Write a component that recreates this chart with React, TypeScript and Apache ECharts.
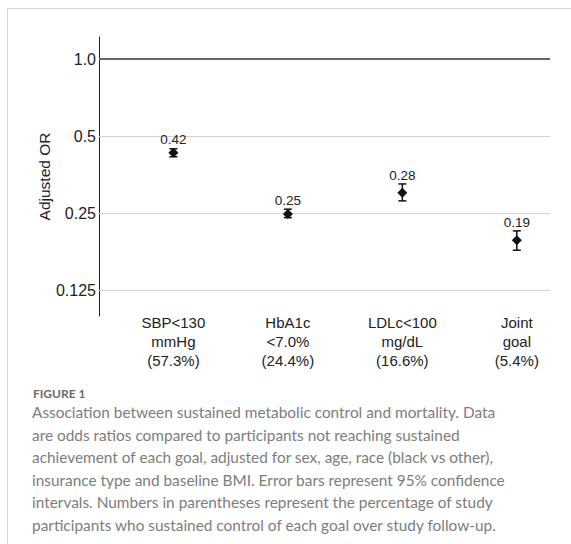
import React, { useEffect, useRef } from "react";
import * as echarts from "echarts";

// ---- data ----
const goalNames = ["SBP<130", "HbA1c", "LDLc<100", "Joint"];
const goalSecondLine = ["mmHg", "<7.0%", "mg/dL", "goal"];
const sustainedPct = ["57.3%", "24.4%", "16.6%", "5.4%"];
const goalPositions = [1, 2, 3, 4];
const orValues = [0.43, 0.248, 0.3, 0.196];
const ciLower = [0.415, 0.24, 0.279, 0.179];
const ciUpper = [0.446, 0.259, 0.325, 0.213];
const orLabels = ["0.42", "0.25", "0.28", "0.19"];
const yTicks = [0.125, 0.25, 0.5, 1.0];
const yTickLabels = ["0.125", "0.25", "0.5", "1.0"];
const yRange = [0.099, 1.22];

const captionTitle = "FIGURE 1";
const captionLines = [
  "Association between sustained metabolic control and mortality. Data",
  "are odds ratios compared to participants not reaching sustained",
  "achievement of each goal, adjusted for sex, age, race (black vs other),",
  "insurance type and baseline BMI. Error bars represent 95% confidence",
  "intervals. Numbers in parentheses represent the percentage of study",
  "participants who sustained control of each goal over study follow-up.",
];

const AX_FONT = "Arial, 'Liberation Sans', sans-serif";
const CAP_FONT = "Lato, 'Open Sans', sans-serif";

export default function App() {
  const ref = useRef<HTMLDivElement>(null);
  useEffect(() => {
    if (!ref.current) return;
    const chart = echarts.init(ref.current, undefined, { renderer: "svg" });
    const rows = goalPositions.map((x, i) => [
      x,
      Math.log2(orValues[i]),
      Math.log2(ciLower[i]),
      Math.log2(ciUpper[i]),
    ]);
    const graphics: any[] = [
      {
        type: "line",
        shape: { x1: 7.5, y1: 8.5, x2: 571, y2: 8.5 },
        style: { stroke: "#d4d4d4", lineWidth: 1 },
      },
      {
        type: "line",
        shape: { x1: 7.5, y1: 8.5, x2: 7.5, y2: 544 },
        style: { stroke: "#d4d4d4", lineWidth: 1 },
      },
      {
        type: "text",
        x: 33,
        y: 393,
        style: {
          text: captionTitle,
          font: `bold 12px ${CAP_FONT}`,
          fill: "#6b6b6b",
          textVerticalAlign: "middle",
        },
      },
    ];
    captionLines.forEach((t, i) => {
      graphics.push({
        type: "text",
        x: 32,
        y: 412 + i * 22.6,
        style: {
          text: t,
          font: `15.4px ${CAP_FONT}`,
          fill: "#7d7d7d",
          textVerticalAlign: "middle",
        },
      });
    });

    chart.setOption({
      animation: false,
      grid: { left: 99, right: 21, top: 37, bottom: 228, containLabel: false },
      xAxis: {
        type: "value",
        min: 0.35,
        max: 4.29,
        axisLine: { show: false },
        axisTick: { show: false },
        splitLine: { show: false },
        axisLabel: {
          customValues: goalPositions,
          formatter: (v: number) => {
            const i = goalPositions.indexOf(v);
            if (i < 0) return "";
            return `${goalNames[i]}\n${goalSecondLine[i]}\n(${sustainedPct[i]})`;
          },
          fontSize: 15,
          lineHeight: 19,
          color: "#222",
          fontFamily: AX_FONT,
          margin: -3,
        },
      },
      yAxis: {
        type: "value",
        min: Math.log2(yRange[0]),
        max: Math.log2(yRange[1]),
        name: "Adjusted OR",
        nameLocation: "middle",
        nameGap: 47,
        nameTextStyle: { fontSize: 15.5, color: "#222", fontFamily: AX_FONT },
        axisLine: { show: true, lineStyle: { color: "#222", width: 1 } },
        axisTick: { show: false },
        axisLabel: { show: false },
        splitLine: { show: false },
      },
      graphic: graphics,
      series: [
        {
          type: "custom",
          data: rows,
          renderItem: (params: any, api: any) => {
            const x = api.value(0);
            const p = api.coord([x, api.value(1)]);
            const lo = api.coord([x, api.value(2)]);
            const hi = api.coord([x, api.value(3)]);
            const cw = 4;
            const d = 5;
            const topY = Math.min(hi[1], p[1] - d);
            const idx = params.dataIndex;
            return {
              type: "group",
              children: [
                {
                  type: "line",
                  shape: { x1: p[0], y1: lo[1], x2: p[0], y2: hi[1] },
                  style: { stroke: "#111", lineWidth: 1.5 },
                },
                {
                  type: "line",
                  shape: { x1: p[0] - cw, y1: lo[1], x2: p[0] + cw, y2: lo[1] },
                  style: { stroke: "#111", lineWidth: 1.5 },
                },
                {
                  type: "line",
                  shape: { x1: p[0] - cw, y1: hi[1], x2: p[0] + cw, y2: hi[1] },
                  style: { stroke: "#111", lineWidth: 1.5 },
                },
                {
                  type: "polygon",
                  shape: {
                    points: [
                      [p[0], p[1] - d],
                      [p[0] + d, p[1]],
                      [p[0], p[1] + d],
                      [p[0] - d, p[1]],
                    ],
                  },
                  style: { fill: "#111" },
                },
                {
                  type: "text",
                  x: p[0],
                  y: topY - 8,
                  style: {
                    text: orLabels[idx],
                    font: `13.5px ${AX_FONT}`,
                    fill: "#222",
                    textAlign: "center",
                    textVerticalAlign: "middle",
                  },
                },
              ],
            };
          },
          markLine: {
            silent: true,
            symbol: "none",
            animation: false,
            label: {
              position: "start",
              distance: 3,
              fontSize: 16,
              color: "#222",
              fontFamily: AX_FONT,
            },
            data: yTicks.map((t, i) => ({
              yAxis: Math.log2(t),
              label: { formatter: yTickLabels[i] },
              lineStyle:
                t === 1
                  ? { color: "#666", width: 2, type: "solid" }
                  : { color: "#d2d2d2", width: 1.2, type: "solid" },
            })),
          },
          z: 5,
        },
      ],
    });
    return () => chart.dispose();
  }, []);
  return (
    <div
      ref={ref}
      style={{ position: "fixed", left: 0, top: 0, width: 571, height: 544, background: "#fff" }}
    />
  );
}
